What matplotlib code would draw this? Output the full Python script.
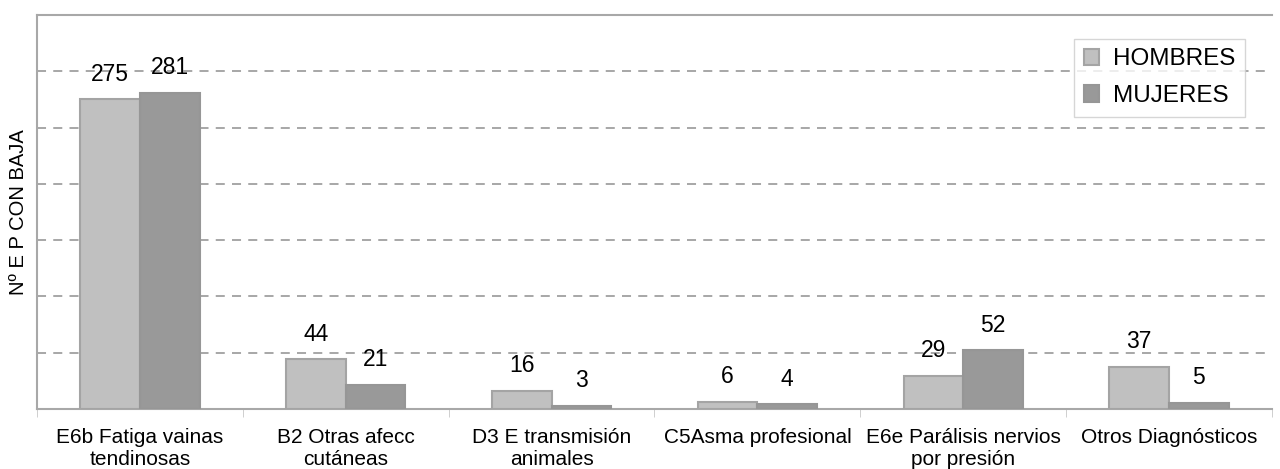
import matplotlib.pyplot as plt
import numpy as np

categories = ["E6b Fatiga vainas\ntendinosas", "B2 Otras afecc\ncutáneas",
              "D3 E transmisión\nanimales", "C5Asma profesional",
              "E6e Parálisis nervios\npor presión", "Otros Diagnósticos"]
hombres = [275, 44, 16, 6, 29, 37]
mujeres = [281, 21, 3, 4, 52, 5]

plt.rcParams['font.family'] = ['Liberation Sans', 'DejaVu Sans']

fig = plt.figure(figsize=(12.8, 4.69), dpi=100)
ax = fig.add_axes([37/1280, 60/469, 1235/1280, 394/469])

x = np.arange(len(categories))
w = 0.29
b1 = ax.bar(x - w, hombres, w, align='edge', color='#c0c0c0', edgecolor='#a4a4a4',
            linewidth=1.5, label='HOMBRES', zorder=3)
b2 = ax.bar(x, mujeres, w, align='edge', color='#999999', edgecolor='#969696',
            linewidth=1.5, label='MUJERES', zorder=3)

for bars, vals in ((b1, hombres), (b2, mujeres)):
    for r, v in zip(bars, vals):
        ax.annotate(str(v), (r.get_x() + r.get_width() / 2, r.get_height()),
                    xytext=(0, 10), textcoords='offset points', ha='center', va='bottom',
                    fontsize=16.5, zorder=4)

ax.set_xlim(-0.5, len(categories) - 0.5)
ax.set_ylim(0, 350)
ax.set_yticks(np.arange(0, 351, 50))
ax.set_yticklabels([])
ax.tick_params(axis='y', length=0)
ax.yaxis.grid(True, linestyle=(0, (5, 4)), color='#a0a0a0', linewidth=1.3, zorder=0)

ax.set_xticks(x)
ax.set_xticklabels(categories, fontsize=15, linespacing=1.15)
ax.tick_params(axis='x', length=0, pad=14)
ax.set_xticks(np.arange(-0.5, len(categories), 1), minor=True)
ax.tick_params(axis='x', which='minor', length=6, color='#c8c8c8', direction='out')

for s in ax.spines.values():
    s.set_color('#a8a8a8')
    s.set_linewidth(1.5)
ax.spines['right'].set_visible(False)

ax.set_ylabel('Nº E P CON BAJA', fontsize=14.5, labelpad=3)

leg = ax.legend(loc='upper right', bbox_to_anchor=(0.978, 0.94), fontsize=17.5,
                frameon=True, fancybox=False, edgecolor='#cccccc', handlelength=0.65,
                handleheight=0.65, handletextpad=0.55, labelspacing=0.6, borderpad=0.4,
                borderaxespad=0)
leg.get_frame().set_linewidth(1)

fig.savefig('out.png', dpi=100)
